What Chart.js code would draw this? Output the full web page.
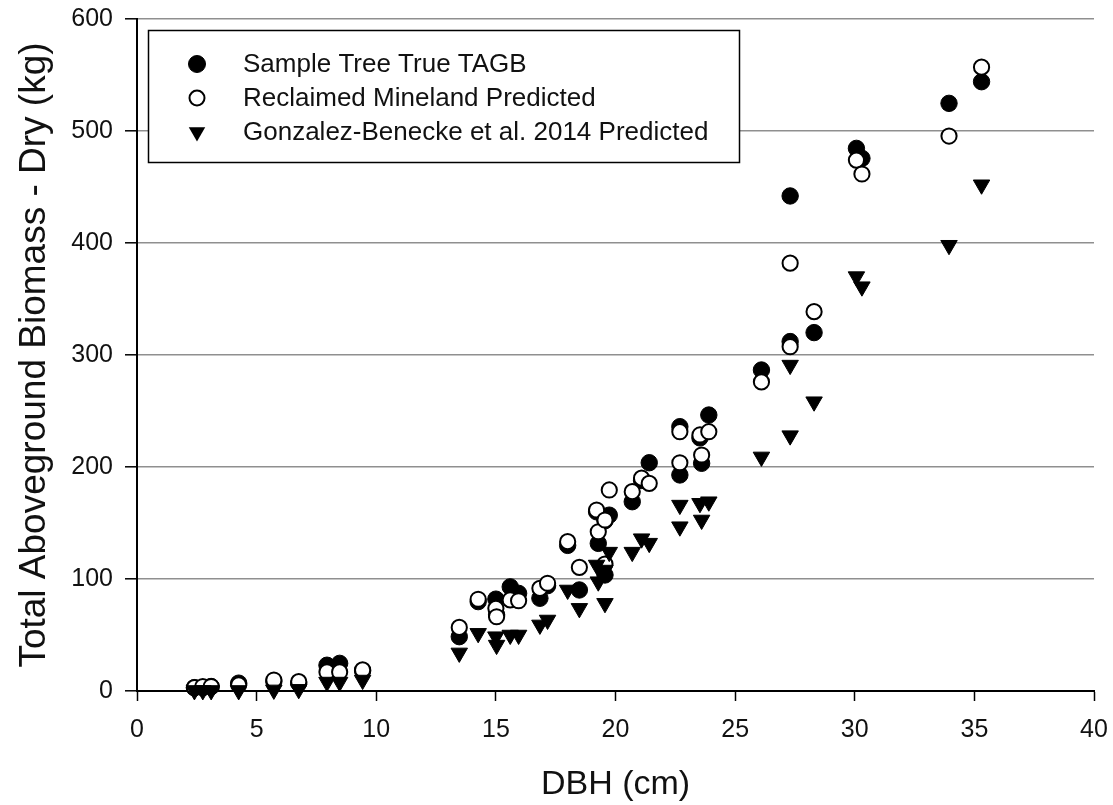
<!DOCTYPE html>
<html>
<head>
<meta charset="utf-8">
<script src="https://cdn.jsdelivr.net/npm/chart.js@4.4.1/dist/chart.umd.min.js"></script>
<style>
html,body{margin:0;padding:0;background:#fff;}
#wrap{width:1113px;height:805px;position:relative;}
</style>
</head>
<body>
<div id="wrap"><canvas id="c" width="1113" height="805"></canvas></div>
<script>
// ---- data ----
const dbh = [2.4, 2.75, 3.1, 4.25, 5.72, 6.76, 7.94, 8.47, 9.43, 13.47, 14.26, 15.0, 15.03, 15.6, 15.95, 16.84, 17.16, 18.0, 18.49, 19.21, 19.28, 19.56, 19.56, 19.74, 20.7, 21.09, 21.41, 22.69, 22.69, 23.53, 23.6, 23.9, 26.1, 27.3, 27.3, 28.3, 30.07, 30.3, 33.94, 35.3];
const sampleTreeTrue = [3, 3, 4, 7, 8.5, 7, 23, 24.7, 18, 48.5, 79.8, 82, 68, 93, 87.2, 82.8, 94, 130, 90.2, 160, 131.8, 103.6, 152, 157, 169, 188, 203.8, 236, 192.9, 226, 203.3, 246.4, 286.6, 442, 312, 320, 484.5, 475.6, 524.7, 544];
const reclaimedPredicted = [3, 4, 4, 5.5, 9.8, 8.3, 17, 17, 18.8, 56.8, 81.9, 73.8, 66.3, 81.3, 80.6, 91.7, 96.2, 133.3, 110.4, 161.6, 142.2, 113.4, 152.7, 179.5, 178, 190, 185.4, 231.5, 203.8, 228.6, 210.7, 231.5, 276, 382, 307.4, 338.7, 474, 461.6, 495.5, 557];
const gonzalezPredicted = [0.5, 0.5, 0.5, 0.5, 1, 1.5, 8, 8, 9.8, 34, 51.5, 48.5, 41, 50, 50, 59, 63.4, 90.2, 73.8, 112.5, 97.6, 78.3, 108, 124, 124, 136, 132, 166, 146.7, 167.6, 152.7, 169, 209, 291, 228, 258.3, 370, 361, 398, 452];
const seriesLabels = ['Sample Tree True TAGB', 'Reclaimed Mineland Predicted', 'Gonzalez-Benecke et al. 2014 Predicted'];
const xTitle = 'DBH (cm)';
const yTitle = 'Total Aboveground Biomass - Dry (kg)';
const xMin = 0, xMax = 40, xStep = 5;
const yMin = 0, yMax = 600, yStep = 100;

const FONT = "'Liberation Sans', Arial, Helvetica, sans-serif";
const toPts = (ys) => dbh.map((x, i) => ({x: x, y: ys[i]}));

const legendPlugin = {
  id: 'boxLegend',
  afterDraw(chart) {
    const ctx = chart.ctx;
    ctx.save();
    const bx = 148.5, by = 30.5, bw = 591, bh = 132;
    ctx.fillStyle = '#fff';
    ctx.fillRect(bx, by, bw, bh);
    ctx.lineWidth = 1.5;
    ctx.strokeStyle = '#000';
    ctx.strokeRect(bx, by, bw, bh);
    const rows = [64, 98, 132];
    const mx = 197;
    ctx.font = '26px ' + FONT;
    ctx.textBaseline = 'middle';
    ctx.textAlign = 'left';
    chart.data.datasets.forEach((ds, i) => {
      const y = rows[i];
      ctx.beginPath();
      if (ds.pointStyle === 'triangle') {
        const r = 9.5;
        ctx.moveTo(mx, y + r);
        ctx.lineTo(mx - r * 0.866, y - r / 2);
        ctx.lineTo(mx + r * 0.866, y - r / 2);
        ctx.closePath();
        ctx.fillStyle = ds.pointBackgroundColor;
        ctx.fill();
      } else {
        const r = ds.pointBackgroundColor === '#fff' ? 7.5 : 8.5;
        ctx.arc(mx, y, r, 0, Math.PI * 2);
        ctx.fillStyle = ds.pointBackgroundColor;
        ctx.fill();
        ctx.lineWidth = ds.pointBorderWidth;
        ctx.strokeStyle = '#000';
        ctx.stroke();
      }
      ctx.fillStyle = '#111';
      ctx.fillText(ds.label, 243, y + 1);
    });
    ctx.restore();
  }
};

new Chart(document.getElementById('c'), {
  type: 'scatter',
  data: {
    datasets: [
      {
        label: seriesLabels[0],
        data: toPts(sampleTreeTrue),
        pointStyle: 'circle',
        pointRadius: 8.2,
        pointHoverRadius: 8.2,
        pointBackgroundColor: '#000',
        pointBorderColor: '#000',
        pointBorderWidth: 1,
        order: 3,
        clip: false
      },
      {
        label: seriesLabels[1],
        data: toPts(reclaimedPredicted),
        pointStyle: 'circle',
        pointRadius: 7.6,
        pointHoverRadius: 7.6,
        pointBackgroundColor: '#fff',
        pointBorderColor: '#000',
        pointBorderWidth: 2,
        order: 2,
        clip: false
      },
      {
        label: seriesLabels[2],
        data: toPts(gonzalezPredicted),
        pointStyle: 'triangle',
        pointRotation: 180,
        pointRadius: 9.5,
        pointHoverRadius: 9.5,
        pointBackgroundColor: '#000',
        pointBorderColor: '#000',
        pointBorderWidth: 1,
        order: 1,
        clip: false
      }
    ]
  },
  options: {
    responsive: false,
    animation: false,
    devicePixelRatio: 1,
    layout: { padding: { left: 0, right: 19, top: 19, bottom: 0 } },
    plugins: { legend: { display: false }, tooltip: { enabled: false } },
    events: [],
    scales: {
      x: {
        type: 'linear',
        min: xMin, max: xMax,
        afterFit(s) { s.height = 114; s.paddingLeft = 0; s.paddingRight = 0; },
        ticks: { stepSize: xStep, color: '#111', font: { size: 25, family: FONT }, padding: 14, maxRotation: 0 },
        grid: { drawOnChartArea: false, drawTicks: true, tickLength: 10, tickColor: '#000', tickWidth: 1.5 },
        border: { display: true, color: '#000', width: 2 },
        title: { display: true, text: xTitle, color: '#111', font: { size: 34, family: FONT }, padding: { top: 0, bottom: 0 } }
      },
      y: {
        type: 'linear',
        min: yMin, max: yMax,
        afterFit(s) { s.width = 137; s.paddingTop = 0; s.paddingBottom = 0; },
        ticks: { stepSize: yStep, color: '#111', font: { size: 25, family: FONT }, padding: 12 },
        grid: {
          drawOnChartArea: true, drawTicks: true, tickLength: 12,
          color: (c) => (c.tick && c.tick.value === 0) ? 'rgba(0,0,0,0)' : '#8f8f8f',
          lineWidth: 1.6, tickColor: '#000', tickWidth: 1.5
        },
        border: { display: true, color: '#000', width: 2 },
        title: { display: true, text: yTitle, color: '#111', font: { size: 37, family: FONT }, padding: { top: 13, bottom: 0 } }
      }
    }
  },
  plugins: [legendPlugin]
});
</script>
</body>
</html>
